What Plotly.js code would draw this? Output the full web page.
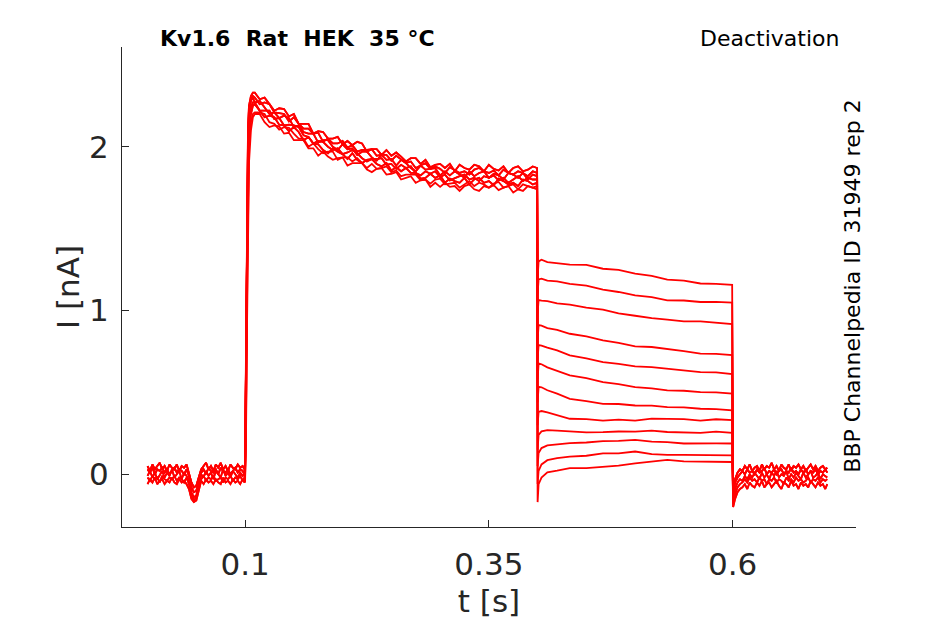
<!DOCTYPE html>
<html>
<head>
<meta charset="utf-8">
<script src="https://cdn.plot.ly/plotly-3.0.1.min.js"></script>
<style>
  html, body { margin: 0; padding: 0; background: #fff; }
  #App { width: 945px; height: 624px; }
</style>
</head>
<body>
<div id="App"></div>
<script>
// holding current before the step (0 - 0.1 s), noisy sweeps
const baseT = [0, 0.0025, 0.005, 0.0075, 0.01, 0.0125, 0.015, 0.0175, 0.02, 0.0225, 0.025, 0.0275, 0.03, 0.0325, 0.035, 0.0375, 0.04, 0.0425, 0.045, 0.0475, 0.05, 0.0525, 0.055, 0.0575, 0.06, 0.0625, 0.065, 0.0675, 0.07, 0.0725, 0.075, 0.0775, 0.08, 0.0825, 0.085, 0.0875, 0.09, 0.0925, 0.095, 0.0975, 0.0995];
const baseA = [0.05, 0.02, 0.06, 0.03, 0.05, 0.07, 0.03, 0.05, 0.02, 0.06, 0.04, 0.03, 0.06, 0.02, 0.05, 0.04, 0.06, 0.01, -0.05, -0.08, -0.07, -0.02, 0.03, 0.05, 0.07, 0.03, 0.05, 0.02, 0.06, 0.04, 0.07, 0.03, 0.05, 0.02, 0.06, 0.04, 0.03, 0.06, 0.04, 0.05, 0.03];
const baseD = [0.03, 0.01, 0.04, 0.0, 0.03, 0.02, 0.04, 0.01, 0.03, 0.0, 0.02, 0.04, 0.01, 0.03, 0.02, 0.0, 0.03, -0.01, -0.08, -0.11, -0.1, -0.04, 0.01, 0.03, 0.0, 0.04, 0.02, 0.01, 0.03, 0.0, 0.04, 0.02, 0.01, 0.03, 0.0, 0.02, 0.04, 0.01, 0.03, 0.02, 0.0];
const baseB = [-0.01, 0.02, -0.02, 0.01, -0.03, 0.0, 0.02, -0.02, 0.01, -0.01, 0.03, -0.02, 0.0, 0.02, -0.03, 0.01, -0.01, -0.04, -0.11, -0.14, -0.13, -0.06, 0.0, -0.02, 0.02, -0.01, 0.01, -0.03, 0.02, 0.0, -0.02, 0.03, -0.01, 0.01, -0.02, 0.02, 0.0, -0.02, 0.01, -0.01, 0.01];
const baseE = [-0.02, -0.04, -0.01, -0.03, -0.02, -0.05, -0.01, -0.03, -0.04, -0.02, -0.03, -0.01, -0.04, -0.02, -0.03, -0.05, -0.02, -0.06, -0.13, -0.16, -0.14, -0.08, -0.03, -0.01, -0.04, -0.02, -0.03, -0.01, -0.04, -0.03, -0.02, -0.05, -0.02, -0.03, -0.01, -0.04, -0.02, -0.03, -0.01, -0.04, -0.02];
const baseC = [-0.06, -0.03, -0.05, -0.02, -0.06, -0.04, -0.03, -0.06, -0.04, -0.05, -0.02, -0.05, -0.06, -0.03, -0.05, -0.04, -0.06, -0.09, -0.15, -0.17, -0.16, -0.1, -0.04, -0.06, -0.03, -0.05, -0.04, -0.06, -0.03, -0.05, -0.06, -0.02, -0.05, -0.04, -0.06, -0.03, -0.05, -0.04, -0.06, -0.03, -0.05];

// activating step (0.1 - 0.4 s), the thick band split in seven sweeps
const actT = [0.1, 0.101, 0.102, 0.103, 0.104, 0.106, 0.108,
  0.11, 0.115, 0.12, 0.125, 0.13, 0.135, 0.14, 0.145, 0.15, 0.155, 0.16, 0.165, 0.17, 0.175, 0.18, 0.185, 0.19, 0.195, 0.2, 0.205,
  0.21, 0.215, 0.22, 0.225, 0.23, 0.235, 0.24, 0.245, 0.25, 0.255, 0.26, 0.265, 0.27, 0.275, 0.28, 0.285, 0.29, 0.295, 0.3, 0.305,
  0.31, 0.315, 0.32, 0.325, 0.33, 0.335, 0.34, 0.345, 0.35, 0.355, 0.36, 0.365, 0.37, 0.375, 0.38, 0.385, 0.39, 0.395, 0.3995];
const actA = [0.04, 0.8, 1.7, 2.1, 2.25, 2.31, 2.33,
  2.33, 2.29, 2.30, 2.26, 2.22, 2.235, 2.23, 2.185, 2.20, 2.14, 2.14, 2.14, 2.08, 2.095, 2.09, 2.05, 2.05, 2.06, 2.015, 2.035,
  2.01, 2.03, 2.02, 1.97, 1.985, 1.985, 1.95, 1.98, 1.945, 1.965, 1.94, 1.91, 1.93, 1.93, 1.895, 1.92, 1.875, 1.89, 1.895, 1.87,
  1.895, 1.85, 1.89, 1.87, 1.86, 1.89, 1.88, 1.85, 1.89, 1.865, 1.855, 1.88, 1.84, 1.87, 1.88, 1.85, 1.86, 1.88, 1.87];
const actG = [0.03, 0.7, 1.6, 2.05, 2.23, 2.29, 2.31,
  2.30, 2.26, 2.27, 2.26, 2.21, 2.205, 2.20, 2.155, 2.18, 2.14, 2.11, 2.11, 2.08, 2.085, 2.03, 2.05, 2.02, 2.02, 2.035, 1.995,
  2.01, 1.97, 1.98, 1.98, 1.985, 1.945, 1.95, 1.95, 1.915, 1.945, 1.92, 1.90, 1.91, 1.87, 1.885, 1.90, 1.865, 1.88, 1.865, 1.84,
  1.875, 1.86, 1.84, 1.85, 1.83, 1.86, 1.87, 1.85, 1.84, 1.855, 1.825, 1.86, 1.84, 1.83, 1.85, 1.84, 1.82, 1.85, 1.84];
const actB = [0.01, 0.6, 1.5, 2.0, 2.2, 2.28, 2.30,
  2.27, 2.28, 2.24, 2.20, 2.21, 2.175, 2.19, 2.175, 2.12, 2.13, 2.09, 2.08, 2.08, 2.025, 2.04, 2.04, 2.0, 1.98, 2.015, 1.985,
  1.99, 1.95, 1.97, 1.97, 1.935, 1.915, 1.95, 1.92, 1.925, 1.885, 1.92, 1.90, 1.87, 1.85, 1.885, 1.86, 1.865, 1.87, 1.825, 1.85,
  1.825, 1.85, 1.83, 1.81, 1.85, 1.82, 1.84, 1.85, 1.81, 1.835, 1.825, 1.80, 1.84, 1.83, 1.81, 1.84, 1.80, 1.83, 1.82];
const actE = [0.0, 0.5, 1.35, 1.9, 2.15, 2.24, 2.27,
  2.27, 2.22, 2.22, 2.22, 2.17, 2.175, 2.13, 2.135, 2.13, 2.12, 2.07, 2.06, 2.02, 2.035, 2.03, 2.0, 1.98, 1.99, 1.955, 1.965,
  1.98, 1.96, 1.93, 1.91, 1.925, 1.925, 1.93, 1.89, 1.895, 1.865, 1.89, 1.87, 1.88, 1.84, 1.825, 1.85, 1.835, 1.85, 1.815, 1.83,
  1.795, 1.81, 1.82, 1.83, 1.80, 1.81, 1.79, 1.82, 1.81, 1.825, 1.795, 1.81, 1.78, 1.80, 1.82, 1.79, 1.81, 1.80, 1.80];
const actC = [-0.02, 0.4, 1.2, 1.8, 2.08, 2.2, 2.25,
  2.26, 2.22, 2.18, 2.19, 2.18, 2.135, 2.13, 2.095, 2.12, 2.09, 2.04, 2.06, 2.02, 2.015, 1.98, 1.96, 1.99, 1.97, 1.955, 1.925,
  1.96, 1.92, 1.90, 1.92, 1.925, 1.895, 1.88, 1.90, 1.855, 1.875, 1.85, 1.87, 1.84, 1.84, 1.805, 1.81, 1.835, 1.81, 1.825, 1.78,
  1.805, 1.79, 1.78, 1.81, 1.77, 1.80, 1.81, 1.78, 1.79, 1.765, 1.805, 1.79, 1.77, 1.78, 1.76, 1.80, 1.79, 1.77, 1.78];
const actF = [-0.03, 0.35, 1.05, 1.65, 2.0, 2.15, 2.2,
  2.21, 2.21, 2.20, 2.15, 2.14, 2.105, 2.12, 2.115, 2.08, 2.05, 2.05, 2.0, 2.02, 1.985, 1.96, 1.97, 1.97, 1.92, 1.935, 1.935,
  1.91, 1.93, 1.90, 1.87, 1.895, 1.865, 1.87, 1.88, 1.845, 1.855, 1.82, 1.83, 1.83, 1.83, 1.795, 1.80, 1.775, 1.80, 1.805, 1.77,
  1.775, 1.78, 1.75, 1.77, 1.79, 1.76, 1.78, 1.77, 1.75, 1.775, 1.785, 1.75, 1.76, 1.77, 1.74, 1.77, 1.76, 1.75, 1.76];
const actD = [-0.05, 0.25, 0.9, 1.5, 1.9, 2.1, 2.18,
  2.20, 2.20, 2.15, 2.12, 2.13, 2.125, 2.08, 2.085, 2.04, 2.04, 2.04, 1.99, 1.99, 1.945, 1.97, 1.94, 1.92, 1.93, 1.935, 1.885,
  1.90, 1.90, 1.90, 1.86, 1.845, 1.865, 1.87, 1.83, 1.835, 1.845, 1.80, 1.81, 1.82, 1.78, 1.795, 1.80, 1.755, 1.78, 1.755, 1.78,
  1.755, 1.76, 1.73, 1.76, 1.77, 1.74, 1.73, 1.76, 1.75, 1.765, 1.735, 1.75, 1.76, 1.72, 1.74, 1.73, 1.76, 1.75, 1.74];

// deactivation step (0.4 - 0.6 s), one sweep per test voltage
const deactT = [0.4, 0.401, 0.404, 0.41, 0.42, 0.433, 0.45, 0.467, 0.483, 0.5, 0.517, 0.533, 0.55, 0.567, 0.583, 0.5995];
const deact1 = [1.2, 1.3, 1.31, 1.295, 1.29, 1.28, 1.278, 1.255, 1.248, 1.225, 1.212, 1.188, 1.182, 1.165, 1.162, 1.156];
const deact2 = [1.1, 1.19, 1.195, 1.182, 1.178, 1.163, 1.152, 1.128, 1.113, 1.093, 1.082, 1.062, 1.061, 1.052, 1.053, 1.048];
const deact3 = [0.98, 1.064, 1.06, 1.057, 1.043, 1.036, 1.018, 1.005, 0.982, 0.968, 0.953, 0.944, 0.933, 0.933, 0.924, 0.917];
const deact4 = [0.82, 0.911, 0.907, 0.893, 0.882, 0.858, 0.842, 0.818, 0.802, 0.781, 0.777, 0.767, 0.752, 0.737, 0.735, 0.728];
const deact5 = [0.7, 0.789, 0.786, 0.773, 0.757, 0.726, 0.707, 0.685, 0.674, 0.659, 0.654, 0.644, 0.637, 0.624, 0.622, 0.612];
const deact6 = [0.58, 0.677, 0.672, 0.653, 0.632, 0.604, 0.587, 0.563, 0.55, 0.532, 0.524, 0.512, 0.51, 0.502, 0.5, 0.493];
const deact7 = [0.44, 0.534, 0.531, 0.513, 0.492, 0.461, 0.447, 0.43, 0.429, 0.42, 0.419, 0.41, 0.409, 0.4, 0.398, 0.391];
const deact8 = [0.3, 0.381, 0.386, 0.378, 0.362, 0.339, 0.337, 0.328, 0.334, 0.328, 0.34, 0.339, 0.337, 0.328, 0.336, 0.33];
const deact9 = [0.15, 0.24, 0.262, 0.27, 0.266, 0.263, 0.256, 0.257, 0.261, 0.26, 0.267, 0.258, 0.257, 0.253, 0.26, 0.253];
const deact10 = [0.05, 0.13, 0.16, 0.176, 0.184, 0.19, 0.194, 0.202, 0.204, 0.21, 0.199, 0.196, 0.188, 0.19, 0.189, 0.188];
const deact11 = [-0.06, 0.02, 0.06, 0.086, 0.098, 0.108, 0.113, 0.128, 0.128, 0.139, 0.123, 0.118, 0.118, 0.117, 0.116, 0.116];
const deact12 = [-0.17, -0.06, -0.02, 0.012, 0.022, 0.037, 0.038, 0.047, 0.053, 0.067, 0.078, 0.088, 0.079, 0.077, 0.076, 0.075];

// back to holding (0.6 - 0.7 s)
const tailT = [0.6005, 0.6025, 0.605, 0.6075, 0.61, 0.6125, 0.615, 0.6175, 0.62, 0.6225, 0.625, 0.6275, 0.63, 0.6325, 0.635, 0.6375, 0.64, 0.6425, 0.645, 0.6475,
  0.65, 0.6525, 0.655, 0.6575, 0.66, 0.6625, 0.665, 0.6675, 0.67, 0.6725, 0.675, 0.6775, 0.68, 0.6825, 0.685, 0.6875, 0.69, 0.6925, 0.695, 0.697];
const tailA = [-0.1, -0.03, 0.01, 0.03, 0.02, 0.05, 0.03, 0.06, 0.02, 0.04, 0.05, 0.02, 0.06, 0.03, 0.05, 0.04, 0.07, 0.03, 0.05, 0.02,
  0.06, 0.04, 0.03, 0.06, 0.02, 0.05, 0.04, 0.06, 0.03, 0.05, 0.02, 0.04, 0.06, 0.03, 0.05, 0.02, 0.04, 0.05, 0.03, 0.04];
const tailD = [-0.12, -0.05, -0.02, 0.0, 0.02, 0.0, 0.03, 0.01, 0.02, 0.0, 0.03, 0.01, 0.02, 0.04, 0.0, 0.02, 0.01, 0.03, 0.0, 0.02,
  0.03, 0.0, 0.02, 0.01, 0.04, 0.01, 0.02, 0.0, 0.03, 0.01, 0.03, 0.0, 0.02, 0.01, 0.03, 0.0, 0.02, 0.01, 0.03, 0.01];
const tailB = [-0.15, -0.09, -0.05, -0.03, -0.04, -0.01, -0.03, 0.0, -0.02, 0.01, -0.01, -0.03, 0.01, -0.02, 0.0, -0.03, 0.01, -0.01, 0.02, -0.02,
  0.0, -0.01, 0.02, -0.03, 0.0, -0.02, 0.01, -0.01, -0.03, 0.01, -0.02, 0.0, 0.02, -0.02, -0.01, 0.01, -0.03, 0.0, -0.01, -0.02];
const tailE = [-0.18, -0.12, -0.08, -0.06, -0.05, -0.03, -0.05, -0.02, -0.04, -0.03, -0.05, -0.02, -0.04, -0.03, -0.06, -0.03, -0.04, -0.02, -0.05, -0.03,
  -0.04, -0.06, -0.02, -0.04, -0.03, -0.05, -0.02, -0.04, -0.03, -0.05, -0.04, -0.02, -0.05, -0.03, -0.04, -0.02, -0.05, -0.03, -0.04, -0.03];
const tailC = [-0.2, -0.15, -0.11, -0.09, -0.08, -0.06, -0.09, -0.05, -0.07, -0.08, -0.05, -0.07, -0.04, -0.08, -0.06, -0.05, -0.08, -0.06, -0.04, -0.07,
  -0.09, -0.05, -0.06, -0.08, -0.04, -0.07, -0.06, -0.09, -0.05, -0.07, -0.06, -0.08, -0.04, -0.06, -0.08, -0.05, -0.07, -0.06, -0.09, -0.06];

const xTicks = [0.1, 0.35, 0.6];
const xTickText = ["0.1", "0.35", "0.6"];
const yTicks = [0, 1, 2];
const yTickText = ["0", "1", "2"];

const titleText = "Kv1.6\u00a0\u00a0Rat\u00a0\u00a0HEK\u00a0\u00a035 °C";
const protocolText = "Deactivation";
const sourceText = "BBP Channelpedia ID 31949 rep 2";

const baseSweeps = [baseA, baseD, baseB, baseE, baseC];
const actSweeps = [actA, actG, actB, actE, actC, actF, actD];
const deactSweeps = [deact1, deact2, deact3, deact4, deact5, deact6, deact7, deact8, deact9, deact10, deact11, deact12];
const tailSweeps = [tailA, tailD, tailB, tailE, tailC];

const font = "DejaVu Sans";
const ink = "#262626";

const data = deactSweeps.map((deact, i) => ({
  type: "scatter",
  mode: "lines",
  x: [...baseT, ...actT, ...deactT, ...tailT],
  y: [...baseSweeps[i % 5], ...actSweeps[i % 7], ...deact, ...tailSweeps[i % 5]],
  line: { color: "#ff0000", width: 1.8 },
  hoverinfo: "none",
  showlegend: false
}));

const layout = {
  width: 945,
  height: 624,
  margin: { l: 122, r: 89, t: 47, b: 97 },
  paper_bgcolor: "#ffffff",
  plot_bgcolor: "#ffffff",
  font: { family: font, color: ink },
  showlegend: false,
  xaxis: {
    range: [-0.0262, 0.7265],
    tickvals: xTicks,
    ticktext: xTickText,
    ticks: "inside",
    ticklen: 7,
    tickwidth: 1,
    tickcolor: ink,
    showline: true,
    linecolor: ink,
    linewidth: 1,
    showgrid: false,
    zeroline: false,
    tickfont: { family: font, size: 31, color: ink },
    ticklabelstandoff: 10,
    title: { text: "t [s]", font: { family: font, size: 31, color: ink }, standoff: 9 }
  },
  yaxis: {
    range: [-0.322, 2.609],
    tickvals: yTicks,
    ticktext: yTickText,
    ticks: "inside",
    ticklen: 7,
    tickwidth: 1,
    tickcolor: ink,
    showline: true,
    linecolor: ink,
    linewidth: 1,
    showgrid: false,
    zeroline: false,
    tickfont: { family: font, size: 31, color: ink },
    ticklabelstandoff: 6,
    title: { text: "I [nA]", font: { family: font, size: 31, color: ink }, standoff: 0 }
  },
  annotations: [
    {
      text: "<b>" + titleText + "</b>",
      xref: "paper", yref: "paper",
      x: 0.049, y: 1.0167,
      xanchor: "left", yanchor: "middle",
      showarrow: false,
      font: { family: font, size: 22, color: "#000000" }
    },
    {
      text: protocolText,
      xref: "paper", yref: "paper",
      x: 0.979, y: 1.0167,
      xanchor: "right", yanchor: "middle",
      showarrow: false,
      font: { family: font, size: 22, color: "#000000" }
    },
    {
      text: sourceText,
      xref: "paper", yref: "paper",
      x: 0.994, y: 0.502,
      xanchor: "center", yanchor: "middle",
      textangle: -90,
      showarrow: false,
      font: { family: font, size: 22, color: "#000000" }
    }
  ]
};

const config = { displayModeBar: false, staticPlot: true };

Plotly.newPlot("App", data, layout, config);
</script>
</body>
</html>
